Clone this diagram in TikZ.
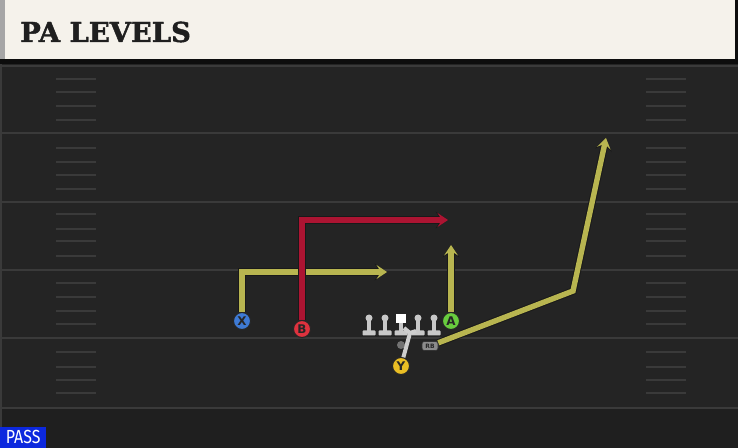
\documentclass[tikz,border=0pt]{standalone}
\usepackage{fontspec}
\usepackage{graphicx}
\usetikzlibrary{calc,positioning,shapes}
\usetikzlibrary{backgrounds}
\usetikzlibrary{arrows.meta}
\newfontfamily\titlefont{DejaVu Serif}[BoldFont={DejaVu Serif Bold}, BoldFeatures={FakeBold=1.6}]
\newfontfamily\labelfont{DejaVu Sans}[BoldFont={DejaVu Sans Bold}]
\newfontfamily\tagfont{Fira Sans}
\definecolor{field}{RGB}{36,36,36}
\definecolor{fieldlow}{RGB}{31,31,31}
\definecolor{yardline}{RGB}{58,58,58}
\definecolor{header}{RGB}{245,242,235}
\definecolor{routeyellow}{RGB}{184,181,80}
\definecolor{routered}{RGB}{172,20,50}
\definecolor{xblue}{RGB}{62,122,212}
\definecolor{bred}{RGB}{222,50,62}
\definecolor{agreen}{RGB}{104,204,62}
\definecolor{yyellow}{RGB}{234,190,36}
\definecolor{lineman}{RGB}{200,200,200}
\definecolor{passblue}{RGB}{12,40,222}
\pgfdeclarelayer{field}
\pgfdeclarelayer{routes}
\pgfsetlayers{field,routes,main}

\begin{document}
\begin{tikzpicture}[x=1bp,y=-1bp]
      \tikzstyle{pnode} = [circle, draw=black!85, line width=1bp, minimum size=17bp, inner sep=0pt, font=\labelfont\bfseries\fontsize{12}{12}\selectfont, text=black!85]
      \tikzstyle{rback} = [draw=black!90, line width=7.4bp, line join=miter, -{Stealth[length=12.5bp,width=17bp,inset=5.5bp,line width=0pt]}]
      \tikzstyle{rline} = [line width=5.4bp, line join=miter, -{Stealth[length=10.5bp,width=14bp,inset=4.5bp,line width=0pt]}]
      \tikzstyle{yard} = [draw=yardline, line width=2bp]
      \tikzstyle{hash} = [draw=yardline, line width=1.4bp]

      \useasboundingbox (0,0) rectangle (738,448);

      \begin{pgfonlayer}{field}
        \fill[field] (0,0) rectangle (738,448);
        \fill[fieldlow] (0,408) rectangle (738,448);
        \draw[draw=yardline, line width=1.5bp] (1,63) -- (1,448);
        \foreach \yl in {66,133,202,270,338,408}
          \draw[yard] (0,\yl) -- (738,\yl);
        \foreach \hy in {79,92,106,120,148,162,175,189,214,229,241,256,283,297,311,324,352,367,380,393} {
          \draw[hash] (56,\hy) -- (96,\hy);
          \draw[hash] (646,\hy) -- (686,\hy);
        }
        % title bar
        \fill[black!95] (0,0) rectangle (738,64);
        \fill[header] (0,0) rectangle (735,59);
        \fill[black!35] (0,0) rectangle (5,59);
      \end{pgfonlayer}

      \node[anchor=west, inner sep=0pt, text=black!88, font=\titlefont\bfseries\fontsize{27.5}{27.5}\selectfont] (title) at (20,32) {PA LEVELS};

      % players
      \node[pnode, fill=xblue] (X) at (242,321) {X};
      \node[pnode, fill=bred] (B) at (302,329) {B};
      \node[pnode, fill=agreen] (A) at (451,321) {A};
      \node[pnode, fill=yyellow] (Y) at (401,366) {Y};
      \node[rectangle, rounded corners=2.5bp, fill=black!45, draw=black!80, line width=0.6bp, minimum width=16bp, minimum height=9bp, inner sep=0pt, font=\labelfont\bfseries\fontsize{6}{6}\selectfont, text=black!85] (rb) at (430,346) {RB};
      \node[circle, fill=black!55, minimum size=8bp, inner sep=0pt] (qb) at (401,345) {};

      % line
      \foreach \lx/\ln in {369/lt,385/lg,418/rg,434/rt} {
        \fill[lineman] (\lx-2.2,319) rectangle (\lx+2.2,332);
        \fill[lineman, rounded corners=0.8bp] (\lx-6.5,330.5) rectangle (\lx+6.5,335.5);
        \node[circle, fill=lineman, minimum size=7bp, inner sep=0pt] (\ln) at (\lx,318) {};
      }
      \fill[lineman] (398.8,320) rectangle (403.2,332);
      \fill[lineman, rounded corners=0.8bp] (394.5,330.5) rectangle (407.5,335.5);
      \node[rectangle, fill=white, minimum size=9.5bp, inner sep=0pt] (c) at (401,318.5) {};

      \coordinate (xTurn) at (242,272);
      \coordinate (xEnd) at (387,272);
      \coordinate (bTurn) at (302,220);
      \coordinate (bEnd) at (448,220);
      \coordinate (aEnd) at (451,245);
      \coordinate (rbBend) at (573,291);
      \coordinate (rbEnd) at (606,138);
      \coordinate (yFork) at (410,333);
      \coordinate (yLeft) at (404,328);
      \coordinate (yRight) at (416,331);

      \begin{pgfonlayer}{routes}
        \draw[rback] (X) -- (xTurn) -- (xEnd);
        \draw[rline, routeyellow] (X) -- (xTurn) -- (xEnd);
        \draw[rback] (B) -- (bTurn) -- (bEnd);
        \draw[rline, routered] (B) -- (bTurn) -- (bEnd);
        \draw[rback] (A) -- (aEnd);
        \draw[rline, routeyellow] (A) -- (aEnd);
        \draw[rback] (rb) -- (rbBend) -- (rbEnd);
        \draw[rline, routeyellow] (rb) -- (rbBend) -- (rbEnd);
      \end{pgfonlayer}
      \draw[lineman!90, line width=4bp] (Y) -- (yFork) -- (yLeft);
      \draw[lineman!90, line width=4bp] (yFork) -- (yRight);

      \node[fill=passblue, text=white, anchor=south west, minimum width=46bp, minimum height=21bp, inner sep=0pt, font=\tagfont\fontsize{19}{19}\selectfont] (pass) at (0,448) {\scalebox{0.84}[1]{PASS}};
\end{tikzpicture}
\end{document}
